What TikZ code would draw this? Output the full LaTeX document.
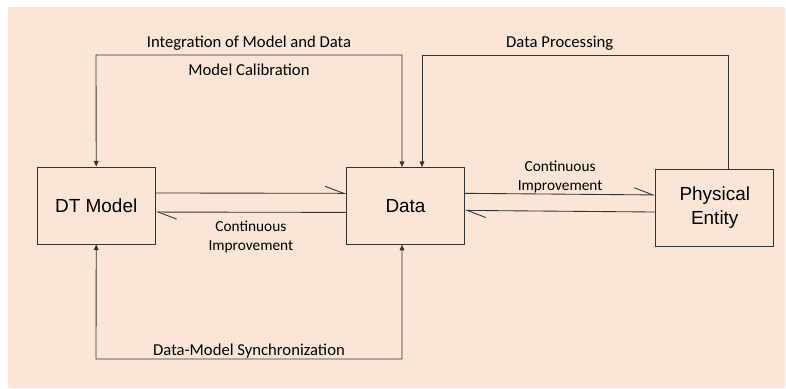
\documentclass[tikz,border=0pt]{standalone}
\usepackage{fontspec}
\setmainfont{Carlito}
\newfontfamily\boxfont{Liberation Sans}
\usepackage{xcolor}
\usetikzlibrary{matrix,arrows.meta}
\definecolor{bgpink}{HTML}{FBE5D6}
\definecolor{linegray}{HTML}{333333}

\begin{document}
\begin{tikzpicture}[x=0.75pt, y=-0.75pt, line width=0.65pt, draw=linegray,
  >={Triangle[length=4.2pt,width=3.6pt]},
  harp/.style={-{Straight Barb[harpoon,length=14pt,width=10.5pt]}},
  lbl/.style={font=\fontsize{12.5}{15}\selectfont},
  cilbl/.style={font=\fontsize{11.5}{14.25}\selectfont, align=center}]
  \useasboundingbox (0,0) rectangle (786,389);
  \fill[bgpink] (8,7) rectangle (785,388);
  \matrix (m) at (405.5,206.5) [matrix of nodes, column sep=142.8pt,
    nodes={draw=linegray, minimum width=88.5pt, minimum height=57.75pt,
      font=\boxfont\fontsize{14.2}{18}\selectfont}]
  {
    DT Model & Data & \begin{tabular}{@{}c@{}}Physical\\Entity\end{tabular} \\
  };
  % loop coordinates
  \coordinate (cal1) at (96,55);
  \coordinate (cal2) at (402,55);
  \coordinate (proc1) at (728,55);
  \coordinate (proc2) at (422,55);
  \coordinate (syn1) at (96,359);
  \coordinate (syn2) at (402,359);
  \draw[<->] (m-1-1.north) -- (cal1)
    -- node (lint) [above, lbl] {Integration of Model and Data}
       node (lcal) [below, lbl, yshift=-2.7pt] {Model Calibration} (cal2)
    -- (cal2 |- m-1-2.north);
  \draw[->] (proc1 |- m-1-3.north) -- (proc1)
    -- node (lproc) [above, lbl, pos=0.55] {Data Processing} (proc2)
    -- (proc2 |- m-1-2.north);
  \draw[<->] (m-1-1.south) -- (syn1)
    -- node (lsyn) [above, lbl, yshift=-3pt] {Data-Model Synchronization} (syn2)
    -- (syn2 |- m-1-2.south);
  % continuous improvement
  \path[harp]
  ([yshift=9.4pt]m-1-1.east) edge ([yshift=9.4pt]m-1-2.west)
  ([yshift=-4.9pt]m-1-2.west) edge node (lci1) [below, cilbl, yshift=-3pt] {Continuous\\Improvement} ([yshift=-4.9pt]m-1-1.east)
  ;
\path[harp]
  ([yshift=9.4pt]m-1-2.east) edge node (lci2) [above, cilbl, yshift=-3pt] {Continuous\\Improvement} ([yshift=9.4pt]m-1-3.west)
  ([yshift=-3.4pt]m-1-3.west) edge ([yshift=-3.4pt]m-1-2.east)
  ;
\end{tikzpicture}
\end{document}
